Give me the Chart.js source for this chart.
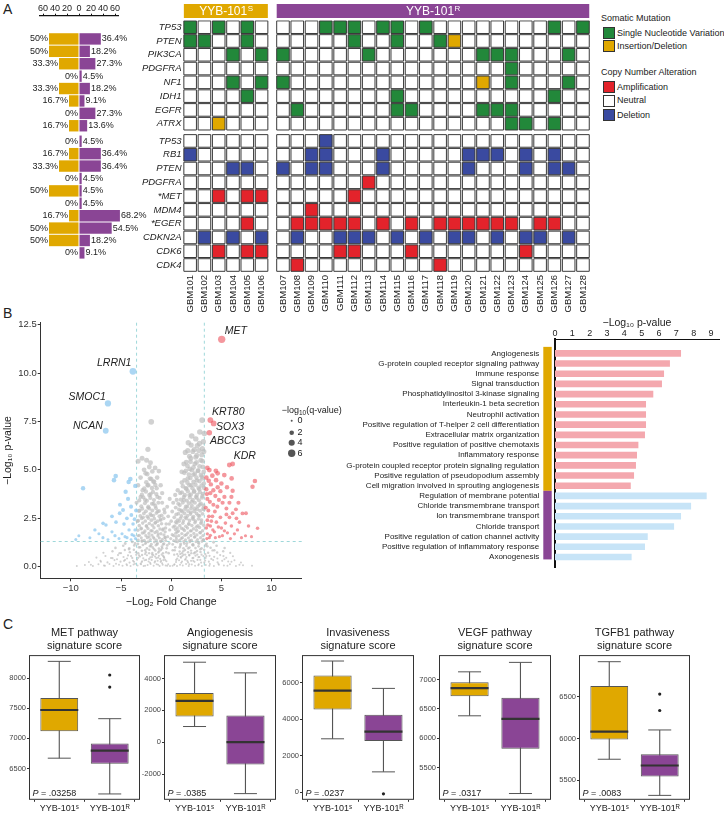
<!DOCTYPE html>
<html>
<head>
<meta charset="utf-8">
<script src="https://cdn.jsdelivr.net/npm/chart.js@4.4.0/dist/chart.umd.min.js"></script>
<style>
  body { margin: 0; background: #fff; }
  #fig { position: relative; width: 724px; height: 821px; overflow: hidden;
         font-family: "Liberation Sans", Arial, Helvetica, sans-serif; color: #222; }
  canvas { position: absolute; }
  .plab { position: absolute; font-size: 14px; }
  .lg { position: absolute; font-size: 9px; line-height: 12px; white-space: nowrap; }
  .sw { position: absolute; width: 10px; height: 10px; border: 1px solid #333; }
</style>
</head>
<body>
<div id="fig">
  <div class="plab" style="left:3px;top:1px">A</div>
  <div class="plab" style="left:3px;top:305px">B</div>
  <div class="plab" style="left:3px;top:616px">C</div>

  <canvas id="pct" width="150" height="280" style="left:0;top:0"></canvas>
  <canvas id="heat" width="500" height="320" style="left:100px;top:0"></canvas>
  <canvas id="volc" width="360" height="318" style="left:0;top:298px"></canvas>
  <canvas id="go" width="404" height="290" style="left:320px;top:298px"></canvas>

  <div class="lg" style="left:601px;top:12px">Somatic Mutation</div>
  <div class="sw" style="left:603px;top:27px;background:#22883a"></div>
  <div class="lg" style="left:617px;top:27px">Single Nucleotide Variation</div>
  <div class="sw" style="left:603px;top:40px;background:#e0a800"></div>
  <div class="lg" style="left:617px;top:40px">Insertion/Deletion</div>
  <div class="lg" style="left:601px;top:66px">Copy Number Alteration</div>
  <div class="sw" style="left:603px;top:81px;background:#e3232b"></div>
  <div class="lg" style="left:617px;top:81px">Amplification</div>
  <div class="sw" style="left:603px;top:95px;background:#fff"></div>
  <div class="lg" style="left:617px;top:94px">Neutral</div>
  <div class="sw" style="left:603px;top:109px;background:#3a4aa0"></div>
  <div class="lg" style="left:617px;top:109px">Deletion</div>
</div>

<script>
// ---------- Panel A: alteration frequencies and oncoprint ----------
const geneRows = ['TP53', 'PTEN', 'PIK3CA', 'PDGFRA', 'NF1', 'IDH1', 'EGFR', 'ATRX',
  'TP53', 'RB1', 'PTEN', 'PDGFRA', '*MET', 'MDM4', '*EGER', 'CDKN2A', 'CDK6', 'CDK4'];
const samplesS = ['GBM101', 'GBM102', 'GBM103', 'GBM104', 'GBM105', 'GBM106'];
const samplesR = ['GBM107', 'GBM108', 'GBM109', 'GBM110', 'GBM111', 'GBM112', 'GBM113', 'GBM114',
  'GBM115', 'GBM116', 'GBM117', 'GBM118', 'GBM119', 'GBM120', 'GBM121', 'GBM122', 'GBM123',
  'GBM124', 'GBM125', 'GBM126', 'GBM127', 'GBM128'];
const pctS = [50, 50, 33.3, 0, 33.3, 16.7, 0, 16.7, 0, 16.7, 33.3, 0, 50, 0, 16.7, 50, 50, 0];
const pctR = [36.4, 18.2, 27.3, 4.5, 18.2, 9.1, 27.3, 13.6, 4.5, 36.4, 36.4, 4.5, 4.5, 4.5, 68.2, 54.5, 18.2, 9.1];
const pctTicks = [-60, -40, -20, 0, 20, 40, 60];
// S = single nucleotide variation, I = indel, A = amplification, D = deletion, . = neutral
const altS = ['S.S.S.', 'SS..S.', '...S.S', '......', '...S.S', '....S.', '......', '..I...',
  '......', 'D.....', '...DD.', '......', '..A.AA', '......', '....A.', '.D.D.D', '..A.AA', '......'];
const altR = [
  '...SSS.SS.S........S.S',
  '.....S..S..SI.........',
  'S.....S.......SSS...S.',
  '................S.....',
  'S.............I.S...S.',
  '........S..........S..',
  '.S......SS....SSS.....',
  '................SS.S..',
  '...D..................',
  '..DD...D.....DDD.D.D..',
  'D.DD...D.....D...D.DD.',
  '......A...............',
  '.....A................',
  '..A...................',
  '.AAAAA.A.A.AAAAAA.AA..',
  '.D..DDD.D.D.DD.D.DD.D.',
  '....AA...A.......A....',
  '.A.........A..........'
];

// ---------- Panel B: volcano ----------
// [log2 fold change, -log10 p, -log10 q]
const volcUp = [
  [5.03, 11.74, 6], [3.9, 7.57, 3.5], [4.23, 7.4, 3.4], [3.8, 6.92, 3.2], [5.79, 5.25, 2.4], [6.12, 5.3, 2.4],
  [3.8, 4.99, 2.3], [4.63, 4.82, 2.2], [5.29, 4.73, 2.2], [3.74, 4.44, 2.1], [4.47, 4.47, 2.1], [6.02, 4.56, 2.1],
  [4.1, 4.7, 2.2], [3.5, 4.6, 2.1], [8.34, 4.42, 2.0], [8.1, 4.13, 1.9], [4.63, 4.1, 1.9], [5.56, 4.1, 1.9],
  [6.12, 3.92, 1.8], [4.4, 3.65, 1.7], [5.12, 3.3, 1.6], [5.8, 3.3, 1.6], [6.7, 3.3, 1.6], [6.45, 2.96, 1.4],
  [6.12, 2.76, 1.3], [5.5, 2.7, 1.3], [7.1, 2.75, 1.3], [7.45, 2.76, 1.3], [8.6, 1.98, 1.0], [3.7, 2.9, 1.4],
  [4.1, 2.6, 1.3], [3.6, 2.4, 1.2], [4.5, 2.3, 1.1], [3.9, 2.1, 1.0], [5.0, 2.0, 1.0], [4.3, 1.8, 0.9],
  [3.6, 1.7, 0.8], [5.6, 1.75, 0.8], [6.6, 1.9, 0.9], [4.8, 1.55, 0.7], [3.8, 1.5, 0.7], [7.4, 1.6, 0.7],
  [4.2, 3.2, 1.5], [4.9, 3.9, 1.8], [5.3, 3.6, 1.7], [3.6, 3.5, 1.6], [3.5, 4.0, 1.8], [3.9, 3.8, 1.8],
  [3.55, 1.45, 0.7], [3.9, 1.62, 0.8], [4.4, 1.5, 0.7], [5.1, 1.6, 0.8], [5.9, 1.45, 0.7], [6.3, 1.7, 0.8],
  [7.0, 1.5, 0.7], [8.0, 1.55, 0.7], [3.65, 2.15, 1.0], [4.7, 2.05, 1.0], [5.4, 2.25, 1.1], [6.0, 2.1, 1.0],
  [6.8, 2.3, 1.1], [3.75, 2.6, 1.2], [4.35, 2.85, 1.3], [4.9, 2.55, 1.2], [5.8, 2.55, 1.2], [6.5, 2.5, 1.2],
  [3.45, 3.05, 1.4], [4.6, 3.1, 1.5], [5.5, 3.0, 1.4], [3.85, 3.35, 1.6], [4.75, 3.45, 1.6], [6.0, 3.6, 1.7],
  [3.55, 3.75, 1.7], [4.2, 3.95, 1.8], [5.0, 4.3, 2.0], [3.95, 4.25, 1.9], [4.45, 4.95, 2.3], [3.6, 5.1, 2.3],
  [4.0, 2.35, 1.1], [3.5, 2.0, 1.0], [4.15, 1.9, 0.9], [5.3, 1.85, 0.9], [7.7, 2.1, 1.0]
];
const volcDown = [
  [-3.81, 10.09, 5], [-6.3, 8.43, 4.2], [-6.52, 7.02, 3.5], [-8.78, 4.05, 1.9], [-5.53, 4.68, 2.1],
  [-5.7, 4.47, 2.0], [-4.07, 4.53, 2.0], [-4.24, 4.37, 1.9], [-3.58, 4.17, 1.8], [-4.54, 3.87, 1.8],
  [-4.8, 2.93, 1.4], [-5.13, 2.76, 1.3], [-4.41, 2.5, 1.2], [-3.97, 2.67, 1.3], [-6.79, 2.24, 1.1],
  [-6.5, 2.15, 1.0], [-5.5, 2.3, 1.1], [-3.8, 2.2, 1.0], [-4.2, 1.9, 0.9], [-5.9, 1.8, 0.8], [-7.2, 1.7, 0.7],
  [-3.7, 1.6, 0.7], [-4.6, 1.55, 0.7], [-5.2, 1.45, 0.6], [-8.1, 1.5, 0.6], [-6.3, 1.4, 0.5], [-4.0, 1.4, 0.5],
  [-9.2, 1.6, 0.6], [-3.6, 1.9, 0.9], [-4.9, 1.7, 0.7], [-3.55, 1.45, 0.7], [-3.9, 1.65, 0.8], [-4.4, 1.5, 0.7],
  [-5.6, 1.6, 0.8], [-6.8, 1.5, 0.7], [-7.6, 1.9, 0.9], [-3.65, 2.45, 1.2], [-4.0, 3.1, 1.5], [-4.7, 2.2, 1.1],
  [-5.9, 2.6, 1.2], [-3.5, 2.9, 1.4], [-4.3, 3.5, 1.6], [-5.1, 3.2, 1.5], [-9.5, 1.4, 0.6]
];
const volcNs = [
  [-1.99, 7.48, 3.4], [-2.32, 6.06, 2.8], [-3.3, 5.45, 2.5], [-2.06, 5.37, 2.4], [-1.23, 4.94, 2.2],
  [-2.55, 4.82, 2.2], [-1.99, 4.53, 2.1], [-1.7, 4.38, 2.0], [-2.35, 4.2, 1.9], [-1.45, 4.05, 1.9],
  [-2.85, 3.95, 1.8], [-2.05, 3.75, 1.7], [-3.05, 3.6, 1.7], [-1.15, 3.55, 1.6], [-2.6, 3.45, 1.6],
  [-3.45, 3.3, 1.5], [-1.75, 3.25, 1.5], [-2.3, 3.05, 1.4], [-3.15, 2.9, 1.4], [-1.35, 2.85, 1.3],
  [-2.0, 2.65, 1.3], [-2.8, 2.55, 1.2], [-3.35, 2.35, 1.1], [-1.05, 2.4, 1.1], [-1.6, 2.25, 1.0],
  [-2.45, 2.1, 1.0], [-3.0, 1.95, 0.9], [-0.8, 1.95, 0.9], [-1.9, 1.85, 0.9], [-2.7, 1.75, 0.8],
  [-1.3, 1.7, 0.8], [-3.3, 1.6, 0.7], [-2.2, 1.55, 0.7], [-0.6, 1.5, 0.7], [-1.7, 1.45, 0.6],
  [-2.9, 1.35, 0.6], [-1.0, 1.3, 0.6], [-2.5, 1.25, 0.5], [-3.6, 1.2, 0.4], [-1.4, 1.15, 0.5],
  [-0.4, 1.1, 0.5], [-2.0, 1.05, 0.4], [-3.1, 1.0, 0.4], [-0.9, 0.95, 0.4], [-1.7, 0.9, 0.3],
  [-2.6, 0.85, 0.3], [-4.2, 0.9, 0.2], [-1.2, 0.8, 0.3], [-3.5, 0.75, 0.2], [-0.5, 0.75, 0.3],
  [-2.2, 0.7, 0.2], [-5.0, 0.7, 0.1], [-1.5, 0.65, 0.2], [-2.9, 0.6, 0.2], [-0.8, 0.55, 0.2],
  [-4.0, 0.55, 0.1], [-1.9, 0.5, 0.1], [-6.0, 0.45, 0.05], [-3.3, 0.45, 0.1], [-1.1, 0.4, 0.1],
  [-2.5, 0.35, 0.1], [-0.6, 0.35, 0.1], [-4.7, 0.3, 0.05], [-1.6, 0.28, 0.05], [-3.7, 0.25, 0.05],
  [-7.0, 0.25, 0], [-2.1, 0.2, 0.05], [-0.9, 0.18, 0.05], [-5.5, 0.15, 0], [-3.0, 0.12, 0],
  [-1.3, 0.1, 0], [-4.4, 0.08, 0], [-2.6, 0.05, 0], [-8.0, 0.1, 0], [-6.6, 0.05, 0], [-0.4, 0.05, 0],
  [3.08, 7.57, 3.5], [3.3, 6.88, 3.2], [2.81, 6.36, 2.9], [1.99, 6.28, 2.8], [1.65, 5.99, 2.7],
  [2.3, 6.05, 2.7], [3.1, 6.1, 2.8], [2.55, 5.75, 2.6], [1.95, 5.6, 2.5], [2.95, 5.5, 2.5],
  [1.5, 5.4, 2.4], [2.35, 5.3, 2.4], [3.15, 5.15, 2.3], [1.85, 5.05, 2.3], [2.7, 4.95, 2.2],
  [1.3, 4.85, 2.2], [2.2, 4.75, 2.1], [3.05, 4.65, 2.1], [1.65, 4.55, 2.1], [2.55, 4.45, 2.0],
  [1.05, 4.35, 2.0], [3.25, 4.3, 2.0], [2.0, 4.2, 1.9], [1.45, 4.05, 1.9], [2.8, 4.0, 1.9],
  [2.3, 3.9, 1.8], [0.9, 3.8, 1.8], [1.8, 3.7, 1.7], [3.1, 3.65, 1.7], [2.55, 3.55, 1.7],
  [1.25, 3.45, 1.6], [2.05, 3.35, 1.6], [0.7, 3.25, 1.5], [2.85, 3.2, 1.5], [1.6, 3.1, 1.5],
  [2.35, 3.0, 1.4], [3.25, 2.95, 1.4], [1.0, 2.9, 1.4], [1.95, 2.8, 1.3], [0.5, 2.7, 1.3],
  [2.7, 2.65, 1.3], [1.4, 2.55, 1.2], [2.2, 2.45, 1.2], [0.8, 2.35, 1.1], [3.0, 2.3, 1.1],
  [1.75, 2.2, 1.1], [0.35, 2.1, 1.0], [2.5, 2.05, 1.0], [1.2, 1.95, 1.0], [2.0, 1.85, 0.9],
  [0.6, 1.8, 0.9], [2.9, 1.75, 0.9], [1.5, 1.65, 0.8], [0.25, 1.6, 0.8], [2.35, 1.55, 0.8],
  [1.0, 1.45, 0.7], [3.2, 1.4, 0.7], [1.85, 1.35, 0.6], [0.45, 1.3, 0.6], [2.7, 1.25, 0.6],
  [1.3, 1.2, 0.5], [0.15, 1.15, 0.5], [2.2, 1.1, 0.5], [3.6, 1.05, 0.4], [0.85, 1.0, 0.4],
  [1.7, 0.95, 0.4], [2.9, 0.9, 0.3], [0.35, 0.85, 0.3], [4.3, 0.85, 0.2], [1.2, 0.8, 0.3],
  [2.4, 0.75, 0.3], [0.6, 0.65, 0.2], [3.4, 0.65, 0.2], [1.8, 0.6, 0.2], [5.2, 0.55, 0.1],
  [0.95, 0.5, 0.1], [2.8, 0.5, 0.1], [1.45, 0.4, 0.1], [4.0, 0.4, 0.1], [0.5, 0.35, 0.1],
  [2.2, 0.3, 0.05], [6.0, 0.25, 0], [3.3, 0.22, 0.05], [1.0, 0.2, 0.05], [4.7, 0.15, 0],
  [1.8, 0.12, 0], [0.3, 0.1, 0], [2.7, 0.08, 0], [3.8, 0.05, 0], [5.6, 0.05, 0], [6.8, 0.1, 0],
  [-9.4, 0.04, 0], [-8.6, 0.09, 0], [-7.8, 0.03, 0], [-7.25, 0.12, 0], [-6.7, 0.06, 0], [-6.15, 0.14, 0],
  [-5.75, 0.03, 0], [-5.2, 0.1, 0], [-4.85, 0.05, 0], [-4.45, 0.13, 0], [-4.05, 0.04, 0], [-3.75, 0.11, 0],
  [-3.35, 0.06, 0], [-3.05, 0.15, 0], [-2.75, 0.03, 0], [-2.35, 0.09, 0], [-2.05, 0.14, 0], [-1.75, 0.05, 0],
  [-1.45, 0.12, 0], [-1.15, 0.04, 0], [-0.85, 0.1, 0], [-0.55, 0.06, 0], [-0.3, 0.13, 0], [-0.12, 0.04, 0],
  [0.14, 0.05, 0], [0.33, 0.12, 0], [0.58, 0.03, 0], [0.88, 0.1, 0], [1.15, 0.06, 0], [1.48, 0.14, 0],
  [1.75, 0.04, 0], [2.05, 0.11, 0], [2.38, 0.05, 0], [2.75, 0.13, 0], [3.05, 0.03, 0], [3.45, 0.09, 0],
  [3.85, 0.14, 0], [4.25, 0.04, 0], [4.75, 0.1, 0], [5.25, 0.06, 0], [5.85, 0.12, 0], [6.45, 0.03, 0],
  [7.15, 0.08, 0], [8.05, 0.05, 0],
  [-8.2, 0.24, 0], [-7.05, 0.31, 0], [-6.35, 0.22, 0.05], [-5.65, 0.34, 0.05], [-5.05, 0.26, 0.05],
  [-4.6, 0.35, 0.05], [-4.15, 0.21, 0.05], [-3.8, 0.3, 0.05], [-3.4, 0.36, 0.05], [-2.95, 0.23, 0.05],
  [-2.65, 0.33, 0.05], [-2.25, 0.27, 0.05], [-1.95, 0.35, 0.05], [-1.65, 0.22, 0.05], [-1.35, 0.31, 0.05],
  [-1.05, 0.25, 0.05], [-0.78, 0.34, 0.05], [-0.48, 0.28, 0.05], [0.48, 0.24, 0.05], [0.78, 0.33, 0.05],
  [1.08, 0.27, 0.05], [1.38, 0.36, 0.05], [1.68, 0.22, 0.05], [1.98, 0.3, 0.05], [2.32, 0.25, 0.05],
  [2.62, 0.35, 0.05], [2.98, 0.21, 0.05], [3.38, 0.32, 0.05], [3.75, 0.26, 0.05], [4.18, 0.34, 0.05],
  [4.62, 0.23, 0.05], [5.08, 0.3, 0.05], [5.68, 0.27, 0], [6.3, 0.33, 0], [6.95, 0.22, 0],
  [-7.45, 0.47, 0.05], [-6.55, 0.55, 0.05], [-5.85, 0.44, 0.1], [-5.3, 0.6, 0.1], [-4.75, 0.5, 0.1],
  [-4.3, 0.58, 0.1], [-3.88, 0.45, 0.1], [-3.48, 0.61, 0.1], [-3.12, 0.52, 0.1], [-2.78, 0.43, 0.1],
  [-2.42, 0.59, 0.1], [-2.08, 0.48, 0.1], [-1.78, 0.6, 0.1], [-1.48, 0.44, 0.1], [-1.22, 0.56, 0.1],
  [-0.95, 0.62, 0.1], [-0.72, 0.5, 0.1], [0.7, 0.55, 0.1], [0.97, 0.46, 0.1], [1.22, 0.61, 0.1],
  [1.52, 0.5, 0.1], [1.8, 0.58, 0.1], [2.12, 0.44, 0.1], [2.42, 0.57, 0.1], [2.72, 0.49, 0.1],
  [3.02, 0.62, 0.1], [3.42, 0.45, 0.1], [3.82, 0.56, 0.1], [4.28, 0.51, 0.1], [4.88, 0.6, 0.1],
  [5.48, 0.46, 0.05], [6.15, 0.54, 0.05],
  [-6.75, 0.72, 0.1], [-5.85, 0.8, 0.2], [-5.15, 0.7, 0.2], [-4.62, 0.86, 0.2], [-4.12, 0.75, 0.2],
  [-3.72, 0.88, 0.25], [-3.28, 0.69, 0.25], [-2.92, 0.82, 0.25], [-2.52, 0.74, 0.25], [-2.18, 0.87, 0.25],
  [-1.88, 0.71, 0.25], [-1.58, 0.84, 0.25], [-1.28, 0.73, 0.25], [-1.02, 0.86, 0.25], [-0.82, 0.7, 0.25],
  [0.84, 0.78, 0.25], [1.08, 0.7, 0.25], [1.38, 0.86, 0.25], [1.68, 0.74, 0.25], [1.98, 0.83, 0.25],
  [2.28, 0.69, 0.25], [2.58, 0.81, 0.25], [2.92, 0.76, 0.25], [3.28, 0.87, 0.25], [3.68, 0.72, 0.2],
  [4.12, 0.84, 0.2], [4.58, 0.73, 0.2], [5.18, 0.8, 0.2], [5.88, 0.71, 0.1],
  [-5.55, 0.97, 0.3], [-4.78, 1.08, 0.35], [-4.18, 0.95, 0.35], [-3.68, 1.1, 0.4], [-3.22, 1.0, 0.4],
  [-2.82, 1.12, 0.4], [-2.42, 0.94, 0.4], [-2.12, 1.06, 0.4], [-1.82, 0.98, 0.4], [-1.52, 1.11, 0.4],
  [-1.22, 0.93, 0.4], [-0.92, 1.04, 0.4], [0.92, 1.09, 0.4], [1.22, 0.95, 0.4], [1.52, 1.07, 0.4],
  [1.82, 0.99, 0.4], [2.12, 1.12, 0.4], [2.42, 0.96, 0.4], [2.72, 1.05, 0.4], [3.02, 0.94, 0.4],
  [3.42, 1.1, 0.4], [3.92, 0.98, 0.35], [4.52, 1.08, 0.35], [5.32, 0.96, 0.3],
  [-4.58, 1.2, 0.5], [-3.88, 1.28, 0.5], [-3.32, 1.17, 0.55], [-2.92, 1.3, 0.55], [-2.58, 1.19, 0.55],
  [-2.28, 1.29, 0.55], [-1.98, 1.16, 0.55], [-1.68, 1.27, 0.55], [-1.38, 1.21, 0.55], [-1.08, 1.31, 0.55],
  [-0.72, 1.18, 0.55], [0.62, 1.27, 0.55], [0.94, 1.17, 0.55], [1.24, 1.3, 0.55], [1.56, 1.2, 0.55],
  [1.86, 1.28, 0.55], [2.16, 1.16, 0.55], [2.46, 1.29, 0.55], [2.76, 1.19, 0.55], [3.06, 1.3, 0.55],
  [3.52, 1.18, 0.5], [4.22, 1.26, 0.5],
  [-3.28, 1.38, 0.7], [-2.98, 1.49, 0.7], [-2.68, 1.36, 0.7], [-2.38, 1.5, 0.7], [-2.08, 1.4, 0.7],
  [-1.78, 1.52, 0.7], [-1.48, 1.37, 0.7], [-1.18, 1.48, 0.7], [-0.88, 1.41, 0.7], [-0.62, 1.51, 0.7],
  [0.52, 1.43, 0.7], [0.82, 1.36, 0.7], [1.12, 1.5, 0.7], [1.42, 1.39, 0.7], [1.72, 1.49, 0.7],
  [2.02, 1.37, 0.7], [2.32, 1.52, 0.7], [2.62, 1.4, 0.7], [2.92, 1.5, 0.7], [3.18, 1.38, 0.7],
  [-3.18, 1.62, 0.85], [-2.88, 1.74, 0.85], [-2.52, 1.6, 0.85], [-2.22, 1.72, 0.85], [-1.92, 1.63, 0.85],
  [-1.62, 1.76, 0.85], [-1.32, 1.59, 0.85], [-1.02, 1.7, 0.85], [-0.72, 1.64, 0.85], [0.46, 1.73, 0.85],
  [0.76, 1.6, 0.85], [1.06, 1.71, 0.85], [1.36, 1.62, 0.85], [1.66, 1.75, 0.85], [1.96, 1.61, 0.85],
  [2.26, 1.72, 0.85], [2.56, 1.64, 0.85], [2.86, 1.76, 0.85], [3.16, 1.6, 0.85],
  [-3.32, 1.88, 0.95], [-2.98, 1.99, 0.95], [-2.62, 1.84, 0.95], [-2.32, 1.97, 0.95], [-2.02, 1.86, 0.95],
  [-1.72, 2.01, 0.95], [-1.42, 1.83, 0.95], [-1.12, 1.95, 0.95], [-0.84, 1.89, 0.95], [-0.56, 2.0, 0.95],
  [0.42, 1.92, 0.95], [0.72, 1.84, 0.95], [1.02, 1.98, 0.95], [1.32, 1.87, 0.95], [1.62, 2.0, 0.95],
  [1.92, 1.85, 0.95], [2.22, 1.96, 0.95], [2.52, 1.88, 0.95], [2.82, 2.02, 0.95], [3.12, 1.86, 0.95],
  [-3.18, 2.12, 1.05], [-2.84, 2.25, 1.05], [-2.48, 2.1, 1.05], [-2.18, 2.23, 1.05], [-1.88, 2.14, 1.05],
  [-1.58, 2.27, 1.05], [-1.28, 2.11, 1.05], [-0.96, 2.22, 1.05], [0.56, 2.26, 1.05], [0.86, 2.12, 1.05],
  [1.16, 2.24, 1.05], [1.46, 2.09, 1.05], [1.76, 2.21, 1.05], [2.06, 2.13, 1.05], [2.36, 2.27, 1.05],
  [2.66, 2.11, 1.05], [2.96, 2.23, 1.05], [3.24, 2.14, 1.05],
  [-3.28, 2.38, 1.15], [-2.94, 2.49, 1.15], [-2.58, 2.36, 1.15], [-2.28, 2.51, 1.15], [-1.98, 2.4, 1.15],
  [-1.68, 2.48, 1.15], [-1.38, 2.35, 1.15], [-1.08, 2.46, 1.15], [0.62, 2.4, 1.15], [0.92, 2.5, 1.15],
  [1.22, 2.37, 1.15], [1.52, 2.49, 1.15], [1.82, 2.39, 1.15], [2.12, 2.52, 1.15], [2.42, 2.36, 1.15],
  [2.72, 2.47, 1.15], [3.02, 2.41, 1.15],
  [-3.08, 2.62, 1.25], [-2.72, 2.75, 1.25], [-2.38, 2.6, 1.25], [-2.08, 2.73, 1.25], [-1.78, 2.64, 1.25],
  [-1.48, 2.77, 1.25], [-1.18, 2.61, 1.25], [0.72, 2.74, 1.25], [1.02, 2.62, 1.25], [1.32, 2.76, 1.25],
  [1.62, 2.63, 1.25], [1.92, 2.72, 1.25], [2.22, 2.59, 1.25], [2.52, 2.75, 1.25], [2.82, 2.62, 1.25],
  [3.12, 2.73, 1.25],
  [-3.22, 2.88, 1.4], [-2.88, 2.99, 1.4], [-2.52, 2.86, 1.4], [-2.18, 3.0, 1.4], [-1.88, 2.9, 1.4],
  [-1.52, 3.02, 1.4], [-1.22, 2.87, 1.4], [0.78, 2.95, 1.4], [1.08, 2.85, 1.4], [1.38, 2.98, 1.4],
  [1.68, 2.88, 1.4], [1.98, 3.01, 1.4], [2.28, 2.86, 1.4], [2.58, 2.97, 1.4], [2.88, 2.89, 1.4],
  [3.18, 3.0, 1.4],
  [-2.98, 3.12, 1.5], [-2.62, 3.28, 1.5], [-2.28, 3.1, 1.5], [-1.92, 3.25, 1.5], [-1.58, 3.14, 1.5],
  [-1.28, 3.3, 1.5], [0.86, 3.18, 1.5], [1.16, 3.31, 1.5], [1.46, 3.11, 1.5], [1.76, 3.27, 1.5],
  [2.06, 3.15, 1.5], [2.36, 3.3, 1.5], [2.66, 3.12, 1.5], [2.96, 3.26, 1.5], [3.22, 3.16, 1.5],
  [-3.18, 3.42, 1.65], [-2.78, 3.58, 1.65], [-2.42, 3.4, 1.65], [-2.08, 3.55, 1.65], [-1.72, 3.44, 1.65],
  [-1.38, 3.6, 1.65], [0.96, 3.46, 1.65], [1.26, 3.6, 1.65], [1.56, 3.41, 1.65], [1.86, 3.57, 1.65],
  [2.16, 3.45, 1.65], [2.46, 3.61, 1.65], [2.76, 3.43, 1.65], [3.06, 3.56, 1.65],
  [-2.92, 3.72, 1.8], [-2.52, 3.88, 1.8], [-2.18, 3.7, 1.8], [-1.82, 3.86, 1.8], [-1.48, 3.75, 1.8],
  [1.06, 3.84, 1.8], [1.36, 3.7, 1.8], [1.66, 3.9, 1.8], [1.96, 3.73, 1.8], [2.26, 3.87, 1.8],
  [2.56, 3.71, 1.8], [2.86, 3.85, 1.8], [3.16, 3.76, 1.8],
  [-2.68, 4.04, 1.95], [-2.28, 4.2, 1.95], [-1.92, 4.06, 1.95], [-1.58, 4.22, 1.95], [1.16, 4.15, 1.95],
  [1.52, 4.02, 1.95], [1.82, 4.2, 1.95], [2.12, 4.05, 1.95], [2.42, 4.23, 1.95], [2.72, 4.08, 1.95],
  [3.02, 4.19, 1.95], [3.28, 4.06, 1.95],
  [-2.48, 4.36, 2.05], [-2.12, 4.55, 2.05], [-1.78, 4.4, 2.05], [1.32, 4.46, 2.05], [1.62, 4.34, 2.05],
  [1.92, 4.58, 2.05], [2.22, 4.38, 2.05], [2.52, 4.6, 2.05], [2.82, 4.42, 2.05], [3.12, 4.56, 2.05],
  [-2.38, 4.78, 2.2], [-1.88, 4.92, 2.2], [1.46, 4.95, 2.2], [1.76, 4.76, 2.2], [2.06, 4.98, 2.2],
  [2.36, 4.8, 2.2], [2.66, 4.96, 2.2], [2.96, 4.74, 2.2], [3.24, 4.9, 2.2],
  [-2.18, 5.15, 2.35], [1.62, 5.2, 2.35], [1.92, 5.42, 2.35], [2.22, 5.12, 2.35], [2.52, 5.38, 2.35],
  [2.82, 5.18, 2.35], [3.12, 5.45, 2.35],
  [1.82, 5.7, 2.55], [2.15, 5.95, 2.6], [2.45, 5.65, 2.55], [2.75, 6.0, 2.65], [3.05, 5.78, 2.6],
  [-0.45, 0.95, 0.4], [0.4, 1.0, 0.4], [-0.2, 1.2, 0.5], [0.25, 1.35, 0.6], [-0.35, 1.55, 0.7],
  [0.1, 1.65, 0.8], [-0.15, 1.9, 0.9], [0.2, 2.05, 1.0], [-0.5, 2.2, 1.0], [0.0, 2.35, 1.1],
  [-0.3, 2.6, 1.2], [0.3, 2.55, 1.2], [-0.65, 2.8, 1.3], [0.1, 2.85, 1.3], [0.45, 3.05, 1.4],
  [-0.4, 3.1, 1.4], [-0.9, 3.3, 1.5], [0.55, 3.45, 1.6], [-0.75, 2.5, 1.2], [-0.6, 1.8, 0.85],
  [0.6, 2.0, 0.95], [-0.05, 1.45, 0.7], [0.15, 0.85, 0.3], [-0.25, 0.7, 0.3], [0.3, 0.62, 0.2],
  [-0.7, 2.95, 1.4], [-0.95, 2.65, 1.25], [0.2, 3.3, 1.5], [-0.15, 3.5, 1.6], [0.4, 3.7, 1.75],
  [0.65, 3.95, 1.9], [-0.2, 2.2, 1.05], [0.45, 2.3, 1.1], [-0.55, 1.35, 0.6], [0.5, 1.55, 0.75],
  [-0.8, 1.15, 0.5],
  [1.7, 6.4, 2.9], [2.45, 6.6, 3.0], [2.05, 6.75, 3.05], [2.85, 6.95, 3.15], [3.2, 6.45, 2.95],
  [1.4, 5.9, 2.65], [2.6, 6.25, 2.85], [1.25, 5.3, 2.4], [3.25, 5.95, 2.7], [1.05, 4.9, 2.2],
  [-2.7, 5.0, 2.3], [-3.05, 4.6, 2.1], [-1.6, 5.1, 2.3], [-2.9, 5.6, 2.5], [-1.4, 4.6, 2.1],
  [-1.05, 4.2, 1.95], [-0.9, 3.8, 1.8], [-3.3, 4.2, 1.95], [-2.45, 5.5, 2.5],
  [-3.6, 0.15, 0], [-2.9, 0.28, 0.05], [-2.2, 0.4, 0.1], [-1.6, 0.52, 0.1], [-1.0, 0.3, 0.05],
  [-0.7, 0.45, 0.1], [0.6, 0.42, 0.1], [1.1, 0.55, 0.1], [1.6, 0.3, 0.05], [2.2, 0.45, 0.1],
  [2.9, 0.35, 0.05], [3.5, 0.55, 0.1], [-3.2, 0.58, 0.1], [-2.6, 0.65, 0.15], [-1.9, 0.62, 0.15],
  [-1.3, 0.47, 0.1], [0.9, 0.65, 0.15], [1.4, 0.62, 0.15], [2.0, 0.7, 0.2], [2.6, 0.62, 0.15],
  [3.2, 0.55, 0.1], [-4.4, 0.42, 0.05], [4.6, 0.42, 0.05], [-5.4, 0.38, 0.05], [5.3, 0.38, 0.05]
];
const volcGenes = [['MET', 5.03, 11.74], ['LRRN1', -3.81, 10.09], ['SMOC1', -6.3, 8.43], ['NCAN', -6.52, 7.02],
  ['KRT80', 3.9, 7.57], ['SOX3', 4.23, 7.4], ['ABCC3', 3.8, 6.92], ['KDR', 6.12, 5.3]];
const volcCutX = [-3.45, 3.3];
const volcCutY = 1.3;
const volcXTicks = [-10, -5, 0, 5, 10];
const volcYTicks = [0, 2.5, 5, 7.5, 10, 12.5];
const qLegend = [0, 2, 4, 6];

// ---------- Panel B: enriched GO terms ----------
const goTerms = ['Angiogenesis', 'G-protein coupled receptor signaling pathway', 'Immune response',
  'Signal transduction', 'Phosphatidylinositol 3-kinase signaling', 'Interleukin-1 beta secretion',
  'Neutrophil activation', 'Positive regulation of T-helper 2 cell differentiation',
  'Extracellular matrix organization', 'Positive regulation of positive chemotaxis', 'Inflammatory response',
  'G-protein coupled receptor protein signaling regulation', 'Positive regulation of pseudopodium assembly',
  'Cell migration involved in sprouting angiogenesis', 'Regulation of membrane potential',
  'Chloride transmembrane transport', 'Ion transmembrane transport', 'Chloride transport',
  'Positive regulation of cation channel activity', 'Positive regulation of inflammatory response', 'Axonogenesis'];
const goLogP = [7.27, 6.63, 6.29, 6.17, 5.67, 5.25, 5.25, 5.25, 5.19, 4.81, 4.73, 4.67, 4.56, 4.37,
  8.75, 7.85, 7.27, 6.87, 5.35, 5.19, 4.42];
const goGroup = ['S', 'S', 'S', 'S', 'S', 'S', 'S', 'S', 'S', 'S', 'S', 'S', 'S', 'S', 'R', 'R', 'R', 'R', 'R', 'R', 'R'];
const goTicks = [0, 1, 2, 3, 4, 5, 6, 7, 8, 9];

// ---------- Panel C: signature scores [min, q1, median, q3, max] ----------
const boxTitles = [['MET pathway', 'signature score'], ['Angiogenesis', 'signature score'],
  ['Invasiveness', 'signature score'], ['VEGF pathway', 'signature score'], ['TGFB1 pathway', 'signature score']];
const boxGroups = ['YYB-101\u02E2', 'YYB-101\u1D3F'];
const boxS = [[6671, 7118, 7470, 7668, 8276], [991, 1619, 2593, 3085, 5020], [2928, 4531, 5566, 6393, 7190],
  [6384, 6715, 6855, 6957, 7133], [5753, 5991, 6085, 6631, 6922]];
const boxR = [[6078, 6578, 6796, 6916, 7326], [-3214, -1396, 12, 1677, 4352], [1117, 2810, 3327, 4242, 5690],
  [5060, 5821, 6330, 6690, 7294], [5320, 5545, 5678, 5813, 6104]];
const outR = [[8050, 7850], [], [-85], [], [6534, 6337]];
const pVals = ['.03258', '.0385', '.0237', '.0317', '.0083'];
const boxTicks = [[6500, 7000, 7500, 8000], [-2000, 0, 2000, 4000], [0, 2000, 4000, 6000],
  [5500, 6000, 6500, 7000], [5500, 6000, 6500]];
const boxRanges = [[5981, 8380], [-3601, 5466], [-414, 7515], [4953, 7418], [5267, 7001]];

// ---------- shared style ----------
const FONT = '"Liberation Sans", Arial, Helvetica, sans-serif';
const GOLD = '#e0a800', PURPLE = '#8a4595';
const cellColors = { '.': '#ffffff', S: '#22883a', I: '#e0a800', A: '#e3232b', D: '#3a4aa0' };

Chart.defaults.font.family = FONT;
Chart.defaults.color = '#222';
Chart.defaults.animation = false;
Chart.defaults.responsive = false;
Chart.defaults.events = [];
Chart.defaults.plugins.legend.display = false;
Chart.defaults.plugins.tooltip.enabled = false;

const fixTicks = values => axis => { axis.ticks = values.map(v => ({ value: v })); };
const rowY = geneRows.map((g, i) => i < 8 ? i : i + 0.25);
const colLabels = samplesS.concat(samplesR);
const colX = colLabels.map((s, k) => k < samplesS.length ? k : k + 0.5);
const minus = v => v < 0 ? '\u2212' + Math.abs(v) : String(v);

// ----- A: frequency bars -----
const pctLabels = {
  id: 'pctLabels',
  afterDatasetsDraw(chart) {
    const { ctx, scales: { x, y } } = chart;
    ctx.save();
    ctx.font = '9px ' + FONT;
    ctx.fillStyle = '#222';
    ctx.textBaseline = 'middle';
    rowY.forEach((ry, i) => {
      const py = y.getPixelForValue(ry);
      ctx.textAlign = 'right';
      ctx.fillText(pctS[i] + '%', x.getPixelForValue(-pctS[i]) - 1, py);
      ctx.textAlign = 'left';
      ctx.fillText(pctR[i] + '%', x.getPixelForValue(pctR[i]) + 1, py);
    });
    ctx.restore();
  }
};

new Chart(document.getElementById('pct'), {
  type: 'bar',
  data: {
    datasets: [
      { data: pctS.map((v, i) => ({ x: -v, y: rowY[i] })), backgroundColor: GOLD, grouped: false, clip: false,
        barPercentage: 0.92, categoryPercentage: 1 },
      { data: pctR.map((v, i) => ({ x: v, y: rowY[i] })), backgroundColor: PURPLE, grouped: false, clip: false,
        barPercentage: 0.92, categoryPercentage: 1 }
    ]
  },
  options: {
    indexAxis: 'y',
    layout: { padding: { left: 40, right: 32, top: 0, bottom: 8.1 } },
    scales: {
      x: {
        type: 'linear', position: 'top', min: -65, max: 65,
        afterBuildTicks: fixTicks(pctTicks),
        afterFit: s => { s.height = 15.7; },
        ticks: { callback: v => Math.abs(v), font: { size: 9 }, padding: 0, maxRotation: 0, autoSkip: false },
        grid: { drawOnChartArea: false, tickLength: 2, color: '#111' },
        border: { color: '#111', width: 1.2 }
      },
      y: { type: 'linear', reverse: true, min: -0.84, max: 17.75, display: false }
    }
  },
  plugins: [pctLabels]
});

// ----- A: oncoprint -----
const cells = [];
geneRows.forEach((g, r) => {
  (altS[r] + altR[r]).split('').forEach((code, k) => cells.push({ x: colX[k], y: rowY[r], code }));
});

const heatHeader = {
  id: 'heatHeader',
  afterDraw(chart) {
    const { ctx, scales: { x } } = chart;
    const nS = samplesS.length;
    const groups = [[colX[0], colX[nS - 1], GOLD, 'S'], [colX[nS], colX[colX.length - 1], PURPLE, 'R']];
    ctx.save();
    groups.forEach(([a, b, col, sup]) => {
      const l = x.getPixelForValue(a - 0.44), r = x.getPixelForValue(b + 0.44);
      ctx.fillStyle = col;
      ctx.fillRect(l, 4, r - l, 14);
      ctx.fillStyle = '#fff';
      ctx.textAlign = 'left';
      ctx.textBaseline = 'alphabetic';
      ctx.font = '12px ' + FONT;
      const w1 = ctx.measureText('YYB-101').width;
      ctx.font = '8px ' + FONT;
      const w2 = ctx.measureText(sup).width;
      const start = (l + r) / 2 - (w1 + w2) / 2;
      ctx.font = '12px ' + FONT;
      ctx.fillText('YYB-101', start, 15.4);
      ctx.font = '8px ' + FONT;
      ctx.fillText(sup, start + w1 + 0.5, 11);
    });
    ctx.restore();
  }
};

new Chart(document.getElementById('heat'), {
  type: 'scatter',
  data: {
    datasets: [{
      data: cells,
      pointStyle: 'rect',
      pointRadius: 8.9,
      backgroundColor: c => c.raw ? cellColors[c.raw.code] : '#fff',
      borderColor: '#3a3a3a',
      borderWidth: 1
    }]
  },
  options: {
    layout: { padding: { top: 20.3, right: 3.7 } },
    scales: {
      x: {
        type: 'linear', min: -0.5, max: 28,
        afterBuildTicks: fixTicks(colX),
        afterFit: s => { s.height = 48.1; },
        ticks: { callback: (v, i) => colLabels[i], minRotation: 90, maxRotation: 90, autoSkip: false,
                 font: { size: 9.5 }, padding: 3 },
        grid: { display: false, drawTicks: false }, border: { display: false }
      },
      y: {
        type: 'linear', reverse: true, min: -0.5, max: 17.75,
        afterBuildTicks: fixTicks(rowY),
        afterFit: s => { s.width = 83; },
        ticks: { callback: (v, i) => geneRows[i], font: { size: 9.5, style: 'italic' }, padding: 1.5, autoSkip: false },
        grid: { display: false, drawTicks: false }, border: { display: false }
      }
    }
  },
  plugins: [heatHeader]
});

// ----- B: volcano -----
const sizeOf = q => Math.sqrt(1 + 2.1 * q);
const volcSet = (arr, color) => ({
  data: arr.map(p => ({ x: p[0], y: p[1], q: p[2] })),
  backgroundColor: color,
  borderWidth: 0,
  pointRadius: c => c.raw ? sizeOf(c.raw.q) : 1
});
const geneLabelPos = {
  MET: [3, -8, 'left'], LRRN1: [-1.5, -8.5, 'right'], SMOC1: [-2, -6, 'right'], NCAN: [-3, -5, 'right'],
  KRT80: [1.7, -8.3, 'left'], SOX3: [2.4, 4, 'left'], ABCC3: [0.7, 8, 'left'], KDR: [1, -8.3, 'left']
};

const volcDeco = {
  id: 'volcDeco',
  beforeDatasetsDraw(chart) {
    const { ctx, chartArea: a, scales: { x, y } } = chart;
    ctx.save();
    ctx.strokeStyle = '#9fd8da';
    ctx.lineWidth = 1;
    ctx.setLineDash([3, 3]);
    volcCutX.forEach(v => {
      const px = x.getPixelForValue(v);
      ctx.beginPath(); ctx.moveTo(px, a.top); ctx.lineTo(px, a.bottom); ctx.stroke();
    });
    const py = y.getPixelForValue(volcCutY);
    ctx.beginPath(); ctx.moveTo(a.left, py); ctx.lineTo(a.right, py); ctx.stroke();
    ctx.restore();
  },
  afterDatasetsDraw(chart) {
    const { ctx, scales: { x, y } } = chart;
    ctx.save();
    ctx.fillStyle = '#222';
    ctx.textBaseline = 'middle';
    ctx.font = 'italic 10.5px ' + FONT;
    volcGenes.forEach(([name, gx, gy]) => {
      const [dx, dy, align] = geneLabelPos[name];
      ctx.textAlign = align;
      ctx.fillText(name, x.getPixelForValue(gx) + dx, y.getPixelForValue(gy) + dy);
    });
    // size legend
    ctx.textAlign = 'left';
    ctx.font = '9px ' + FONT;
    let tx = 281.7;
    ctx.fillText('\u2212log', tx, 112.7); tx += ctx.measureText('\u2212log').width;
    ctx.font = '6.5px ' + FONT;
    ctx.fillText('10', tx, 115.5); tx += ctx.measureText('10').width;
    ctx.font = '9px ' + FONT;
    ctx.fillText('(q-value)', tx, 112.7);
    const ly = [122.7, 134.7, 144.7, 155.3];
    qLegend.forEach((q, i) => {
      ctx.fillStyle = '#555';
      ctx.beginPath(); ctx.arc(291.7, ly[i], sizeOf(q), 0, Math.PI * 2); ctx.fill();
      ctx.fillStyle = '#222';
      ctx.fillText(String(q), 297.5, ly[i]);
    });
    ctx.restore();
  }
};

new Chart(document.getElementById('volc'), {
  type: 'scatter',
  data: {
    datasets: [
      volcSet(volcUp, 'rgba(236,82,92,0.6)'),
      volcSet(volcDown, 'rgba(150,204,240,0.8)'),
      volcSet(volcNs, 'rgba(190,190,190,0.7)')
    ]
  },
  options: {
    layout: { padding: { top: 24.7, right: 58.3 } },
    scales: {
      x: {
        type: 'linear', min: -13, max: 13,
        afterBuildTicks: fixTicks(volcXTicks),
        afterFit: s => { s.height = 37.7; },
        ticks: { callback: minus, font: { size: 9.5 }, color: '#333', padding: 1, maxRotation: 0 },
        title: { display: true, text: '\u2212Log\u2082 Fold Change', font: { size: 10.5 }, padding: { top: 0, bottom: 8 } },
        grid: { drawOnChartArea: false, tickLength: 3, color: '#333' },
        border: { color: '#333', width: 1 }
      },
      y: {
        type: 'linear', min: -0.6, max: 12.6,
        afterBuildTicks: fixTicks(volcYTicks),
        afterFit: s => { s.width = 40.7; },
        ticks: { callback: v => v.toFixed(1), font: { size: 9.5 }, color: '#333', padding: 1 },
        title: { display: true, text: '\u2212Log\u2081\u2080 p-value', font: { size: 10.5 }, padding: { top: 2, bottom: 0 } },
        grid: { drawOnChartArea: false, tickLength: 3, color: '#333' },
        border: { color: '#333', width: 1 }
      }
    }
  },
  plugins: [volcDeco]
});

// ----- B: GO bars -----
const goStrip = {
  id: 'goStrip',
  afterDraw(chart) {
    const { ctx, chartArea: a, scales: { y } } = chart;
    const nS = goGroup.filter(g => g === 'S').length;
    const top = y.getPixelForValue(-0.64), mid = y.getPixelForValue(nS - 0.5), bot = y.getPixelForValue(goGroup.length - 0.76);
    ctx.fillStyle = GOLD;
    ctx.fillRect(a.left - 11.7, top, 8.4, mid - top);
    ctx.fillStyle = PURPLE;
    ctx.fillRect(a.left - 11.7, mid, 8.4, bot - mid);
  }
};

new Chart(document.getElementById('go'), {
  type: 'bar',
  data: {
    datasets: [{
      data: goLogP.map((v, i) => ({ x: v, y: i })),
      backgroundColor: goGroup.map(g => g === 'S' ? '#f4a8ae' : '#c7e4f7'),
      barPercentage: 0.65, categoryPercentage: 1
    }]
  },
  options: {
    indexAxis: 'y',
    layout: { padding: { right: 5, bottom: 6.8 } },
    scales: {
      x: {
        type: 'linear', position: 'top', min: 0, max: 9.46,
        afterBuildTicks: fixTicks(goTicks),
        afterFit: s => { s.height = 41.3; },
        title: { display: true, text: '\u2212Log\u2081\u2080 p-value', font: { size: 10.5 }, padding: { top: 19, bottom: 0 } },
        ticks: { font: { size: 9 }, padding: 0, maxRotation: 0 },
        grid: { display: false, drawTicks: false },
        border: { color: '#111', width: 1 }
      },
      y: {
        type: 'linear', reverse: true, min: -0.85, max: 20.5,
        afterBuildTicks: fixTicks(goTerms.map((t, i) => i)),
        afterFit: s => { s.width = 235; },
        ticks: { callback: (v, i) => goTerms[i], font: { size: 8 }, padding: 15.7, autoSkip: false },
        grid: { display: false, drawTicks: false },
        border: { color: '#111', width: 2 }
      }
    }
  },
  plugins: [goStrip]
});

// ----- C: box plots -----
const boxFrameX = [[29.3, 140.7], [164.3, 276], [301.7, 413.3], [439, 550.7], [579.3, 690]];
const fig = document.getElementById('fig');
const boxDeco = p => ({
  id: 'boxDeco',
  afterDraw(chart) {
    const { ctx, chartArea: a } = chart;
    ctx.save();
    ctx.strokeStyle = '#333';
    ctx.lineWidth = 1;
    ctx.strokeRect(a.left + 0.5, a.top + 0.5, a.right - a.left - 1, a.bottom - a.top - 1);
    ctx.fillStyle = '#222';
    ctx.textBaseline = 'alphabetic';
    ctx.textAlign = 'left';
    ctx.font = 'italic 9px ' + FONT;
    ctx.fillText('P', a.left + 3.4, a.bottom - 4);
    const w = ctx.measureText('P').width;
    ctx.font = '9px ' + FONT;
    ctx.fillText(' = ' + p, a.left + 3.4 + w, a.bottom - 4);
    ctx.restore();
  }
});

boxTitles.forEach((title, k) => {
  const [L, R] = boxFrameX[k];
  const side = 29;
  const cv = document.createElement('canvas');
  cv.width = Math.round(R - L + 2 * side);
  cv.height = 201;
  cv.style.left = (L - side) + 'px';
  cv.style.top = '620px';
  fig.appendChild(cv);
  const s = boxS[k], r = boxR[k];
  new Chart(cv, {
    type: 'bar',
    data: {
      datasets: [
        { type: 'scatter', order: 1, data: outR[k].map(v => ({ x: 2, y: v })), pointRadius: 1.6,
          backgroundColor: '#222', borderWidth: 0 },
        { type: 'scatter', order: 2, data: [{ x: 1, y: s[2] }, { x: 2, y: r[2] }], pointStyle: 'line',
          pointRadius: 19, borderColor: '#333', borderWidth: 2.2 },
        { type: 'bar', order: 3, data: [{ x: 1, y: [s[1], s[3]] }, { x: 2, y: [r[1], r[3]] }],
          backgroundColor: [GOLD, PURPLE], borderColor: '#555', borderWidth: 1, borderSkipped: false,
          grouped: false, barPercentage: 0.75, categoryPercentage: 1 },
        { type: 'scatter', order: 4, data: [{ x: 1, y: s[0] }, { x: 1, y: s[4] }, { x: 2, y: r[0] }, { x: 2, y: r[4] }],
          pointStyle: 'line', pointRadius: 11.5, borderColor: '#555', borderWidth: 1 },
        { type: 'bar', order: 5, data: [{ x: 1, y: [s[0], s[4]] }, { x: 2, y: [r[0], r[4]] }],
          backgroundColor: '#555', grouped: false, barPercentage: 0.022, categoryPercentage: 1 }
      ]
    },
    options: {
      plugins: {
        title: { display: true, text: title, font: { size: 11, weight: 'normal' }, color: '#222',
                 padding: { top: 6, bottom: 2.7 } }
      },
      scales: {
        x: {
          type: 'linear', min: 0.4, max: 2.6, offset: false,
          afterBuildTicks: fixTicks([1, 2]),
          afterFit: sc => { sc.height = 13.7; },
          ticks: { callback: (v, i) => boxGroups[i], font: { size: 9 }, padding: 1.5, maxRotation: 0 },
          grid: { drawOnChartArea: false, tickLength: 2, color: '#333' },
          border: { display: false }
        },
        y: {
          type: 'linear', min: boxRanges[k][0], max: boxRanges[k][1],
          afterBuildTicks: fixTicks(boxTicks[k]),
          afterFit: sc => { sc.width = side; },
          ticks: { callback: v => String(v), font: { size: 7.5 }, color: '#444', padding: 1 },
          grid: { drawOnChartArea: false, tickLength: 2, color: '#333' },
          border: { display: false }
        },
        yRight: {
          type: 'linear', position: 'right',
          afterFit: sc => { sc.width = side; },
          ticks: { display: false }, grid: { display: false }, border: { display: false }
        }
      }
    },
    plugins: [boxDeco(pVals[k])]
  });
});
</script>
</body>
</html>
